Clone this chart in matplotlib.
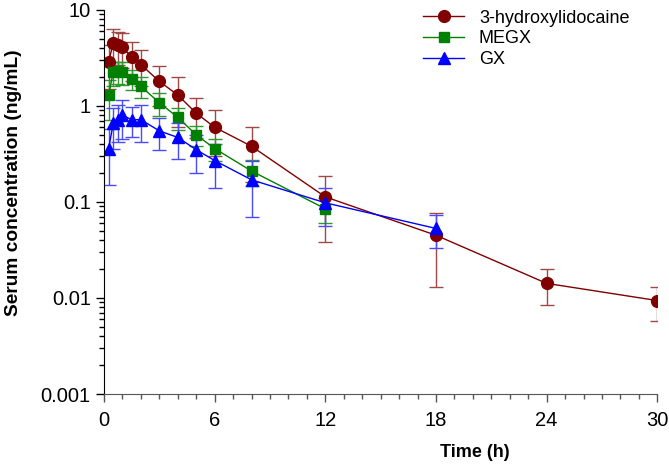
import matplotlib.pyplot as plt
from matplotlib.ticker import LogLocator, NullFormatter, FixedLocator

plt.rcParams['font.family'] = ['Liberation Sans', 'DejaVu Sans']

# time points (h)
t_oh = [0.25, 0.5, 0.75, 1, 1.5, 2, 3, 4, 5, 6, 8, 12, 18, 24, 30]
oh_mean = [2.9, 4.5, 4.3, 4.1, 3.2, 2.7, 1.8, 1.3, 0.84, 0.6, 0.38, 0.113, 0.045, 0.0142, 0.0094]
oh_sd = [1.4, 1.8, 1.6, 1.6, 1.4, 1.1, 0.8, 0.7, 0.38, 0.3, 0.22, 0.075, 0.032, 0.0058, 0.0037]

t_megx = [0.25, 0.5, 0.75, 1, 1.5, 2, 3, 4, 5, 6, 8, 12]
megx_mean = [1.3, 2.25, 2.3, 2.25, 1.9, 1.6, 1.08, 0.76, 0.5, 0.36, 0.21, 0.085]
megx_sd = [0.58, 0.65, 0.6, 0.6, 0.45, 0.4, 0.3, 0.2, 0.12, 0.09, 0.065, 0.024]

t_gx = [0.25, 0.5, 0.75, 1, 1.5, 2, 3, 4, 5, 6, 8, 12, 18]
gx_mean = [0.36, 0.66, 0.72, 0.8, 0.72, 0.72, 0.55, 0.47, 0.35, 0.27, 0.17, 0.098, 0.053]
gx_sd = [0.21, 0.3, 0.3, 0.35, 0.25, 0.3, 0.2, 0.19, 0.15, 0.13, 0.1, 0.042, 0.02]

names = ['3-hydroxylidocaine', 'MEGX', 'GX']

fig = plt.figure(figsize=(6.69, 4.73), dpi=100)
ax = fig.add_axes([0.1555, 0.167, 0.827, 0.812])

series = [
    (t_oh, oh_mean, oh_sd, '#800000', '#a04848', 'o', 8.5),
    (t_megx, megx_mean, megx_sd, '#008000', '#2e9a2e', 's', 7.5),
    (t_gx, gx_mean, gx_sd, '#0000FF', '#4a4aff', '^', 8.5),
]
handles = []
for t, m, sd, c, ec, mk, ms in series:
    cont = ax.errorbar(t, m, yerr=sd, color=c, ecolor=ec, elinewidth=1.0, capsize=5,
                       capthick=1.0, marker=mk, markersize=ms, linewidth=1.0)
    handles.append(cont[0])

ax.set_yscale('log')
ax.set_ylim(0.001, 10)
ax.set_xlim(0, 30)
ax.xaxis.set_major_locator(FixedLocator([0, 6, 12, 18, 24, 30]))
ax.xaxis.set_minor_locator(FixedLocator(range(0, 31)))
ax.yaxis.set_minor_locator(LogLocator(base=10, subs=range(2, 10), numticks=10))
ax.yaxis.set_minor_formatter(NullFormatter())
ax.set_yticks([0.001, 0.01, 0.1, 1, 10])
ax.set_yticklabels(['0.001', '0.01', '0.1', '1', '10'])

for s in ['top', 'right']:
    ax.spines[s].set_visible(False)
ax.spines['bottom'].set_color('#555555')
ax.spines['left'].set_color('black')
ax.tick_params(axis='both', which='major', labelsize=14.5, length=6, width=1)
ax.tick_params(axis='both', which='minor', length=3.5, width=1)
ax.tick_params(axis='x', which='both', color='#555555', pad=6)

ax.set_xlabel('Time (h)', fontsize=13, fontweight='bold')
ax.set_ylabel('Serum concentration (ng/mL)', fontsize=13.8, fontweight='bold')
ax.xaxis.set_label_coords(0.67, -0.13)
ax.yaxis.set_label_coords(-0.148, 0.55)

ax.legend(handles, names, loc='upper left', bbox_to_anchor=(0.547, 1.043), frameon=False,
          fontsize=13, handlelength=2.3, labelspacing=0.2, handletextpad=0.8)

fig.savefig('out.png', dpi=100)
